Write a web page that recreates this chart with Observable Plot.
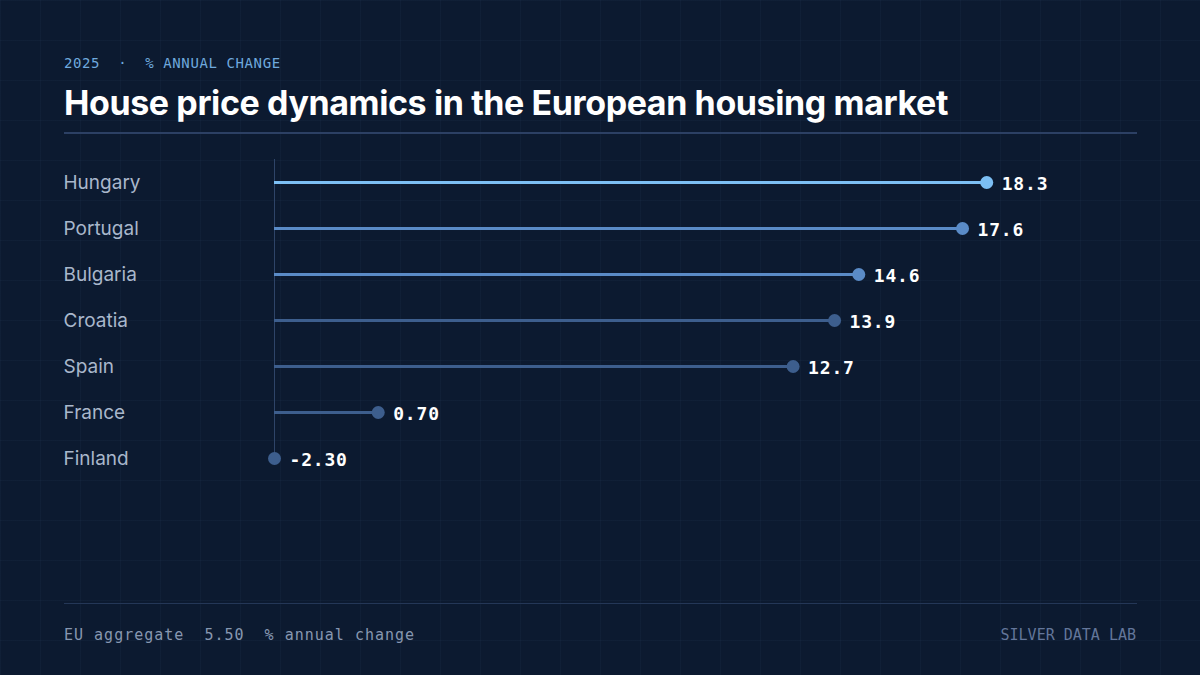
<!DOCTYPE html>
<html>
<head>
<meta charset="utf-8">
<script src="https://cdn.jsdelivr.net/npm/d3@7"></script>
<script src="https://cdn.jsdelivr.net/npm/@observablehq/plot@0.6"></script>
<style>
  html, body { margin: 0; padding: 0; background: #0c1a30; }
  #frame {
    position: relative; width: 1200px; height: 675px; overflow: hidden;
    background-color: #0c1a30;
    background-image:
      linear-gradient(to right, rgba(120,150,200,0.045) 1px, transparent 1px),
      linear-gradient(to bottom, rgba(120,150,200,0.045) 1px, transparent 1px);
    background-size: 40px 40px;
    background-position: 0 0;
  }
  .mono { font-family: "DejaVu Sans Mono", "Liberation Mono", monospace; }
  #eyebrow { position: absolute; left: 64px; top: 56px; font-size: 14px; line-height: 1; color: #6fa9de; white-space: pre; letter-spacing: 0.6px; }
  #title { position: absolute; left: 64px; top: 86px; margin: 0; font-family: Inter, "Noto Sans", sans-serif; font-weight: 700; font-size: 34px; line-height: 1; color: #ffffff; letter-spacing: -0.4px; white-space: nowrap; }
  .hr { position: absolute; left: 64px; width: 1073px; height: 1px; }
  #topRule { top: 132px; background: #2c4064; height: 1.5px; }
  #footRule { top: 603px; background: #243757; }
  #chart { position: absolute; left: 0; top: 140px; }
  #footLeft { position: absolute; left: 64px; top: 628px; font-size: 15px; line-height: 1; color: #8797b0; white-space: pre; letter-spacing: 1px; }
  #footRight { position: absolute; right: 64px; top: 628px; font-size: 15px; line-height: 1; color: #63769a; white-space: pre; letter-spacing: 0px; }
  #chart svg g[aria-label="text"] text { letter-spacing: 0.8px; }
</style>
</head>
<body>
<div id="frame">
  <div id="eyebrow" class="mono"></div>
  <h1 id="title"></h1>
  <div id="topRule" class="hr"></div>
  <div id="chart"></div>
  <div id="footRule" class="hr"></div>
  <div id="footLeft" class="mono"></div>
  <div id="footRight" class="mono"></div>
</div>
<script>
// ---- Data ----
const countries = ["Hungary", "Portugal", "Bulgaria", "Croatia", "Spain", "France", "Finland"];
const values = [18.3, 17.6, 14.6, 13.9, 12.7, 0.70, -2.30];
const euAggregate = 5.50;
const year = "2025";
const unitLabel = "% ANNUAL CHANGE";
const titleText = "House price dynamics in the European housing market";
const footUnit = "% annual change";
const brand = "SILVER DATA LAB";

// ---- Text ----
const fmt = v => Math.abs(v) >= 10 ? v.toFixed(1) : v.toFixed(2);
document.getElementById("eyebrow").textContent = `${year}  ·  ${unitLabel}`;
document.getElementById("title").textContent = titleText;
document.getElementById("footLeft").textContent = `EU aggregate  ${fmt(euAggregate)}  ${footUnit}`;
document.getElementById("footRight").textContent = brand;

// ---- Chart ----
const data = countries.map((c, i) => ({
  country: c,
  value: values[i],
  tier: i === 0 ? "lead" : i < 3 ? "high" : "rest"
}));
const xMin = d3.min(values);
const xMax = 20;

const chart = Plot.plot({
  width: 1200,
  height: 360,
  marginLeft: 274,
  marginRight: 155,
  marginTop: 19,
  marginBottom: 19,
  style: { background: "transparent", color: "#a9b7cb", fontFamily: "Inter, 'Noto Sans', sans-serif" },
  x: { domain: [xMin, xMax], axis: null },
  y: { type: "point", domain: countries, padding: 0.5, label: null },
  color: { domain: ["lead", "high", "rest"], range: ["#7cbff4", "#5a8bc7", "#3d5e8d"] },
  marks: [
    Plot.ruleX([xMin], { stroke: "#2e4468", strokeWidth: 1, insetBottom: 22 }),
    Plot.ruleY(data, { y: "country", x1: xMin, x2: "value", stroke: "tier", strokeWidth: 3 }),
    Plot.dot(data, { x: "value", y: "country", fill: "tier", r: 6.5 }),
    Plot.text(data, {
      x: "value", y: "country", text: d => fmt(d.value),
      dx: 15, dy: 2, textAnchor: "start", fill: "#ffffff",
      fontWeight: 700, fontSize: 18, fontFamily: "'DejaVu Sans Mono', monospace"
    }),
    Plot.axisY({ tickSize: 0, textAnchor: "start", dx: -202, fontSize: 19, label: null, fill: "#a9b7cb" })
  ]
});
document.getElementById("chart").appendChild(chart);
</script>
</body>
</html>
